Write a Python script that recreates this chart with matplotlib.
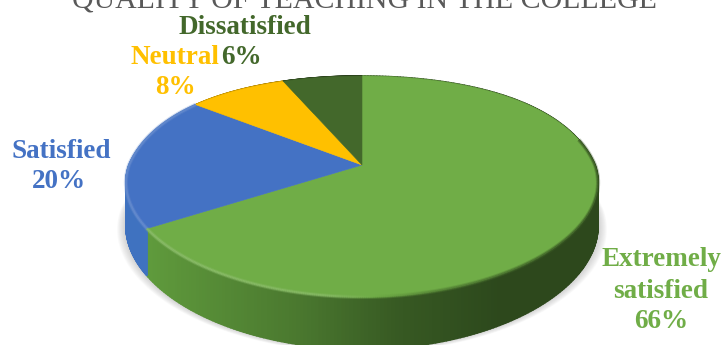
import numpy as np
import matplotlib
matplotlib.use("Agg")
import matplotlib.pyplot as plt
from matplotlib.collections import PolyCollection, LineCollection
from matplotlib.colors import to_rgb

title = "QUALITY OF TEACHING IN THE COLLEGE"
categories = ["Extremely satisfied", "Satisfied", "Neutral", "Dissatisfied"]
values = [66, 20, 8, 6]
top_colors = ["#70ad47", "#4472c4", "#ffc000", "#43682b"]
wall_colors = ["#5f9a3c", "#3f72c0", "#d9a300", "#3a5a25"]

# perspective of the pie disc, in pixels of the picture
cx, cy = 362, 165
kp = 0.1946
rx, ry = 233, 106.3
depth = 42


def project(theta):
    u, v = np.sin(theta), np.cos(theta)
    w = 1 + kp * v
    wx = 1 + np.where(v > 0, 0.19 - 0.1 * v, 0.16) * v
    return cx + rx * u / wx, cy - ry * v / w, depth / w


plt.rcParams["font.family"] = ["Liberation Serif", "DejaVu Serif"]
fig = plt.figure(figsize=(7.23, 3.45), dpi=100)
ax = fig.add_axes([0, 0, 1, 1])
ax.set_xlim(0, 723)
ax.set_ylim(345, 0)
ax.axis("off")

# edges of the slices, clockwise from the top
fracs = np.array(values) / sum(values) * 2 * np.pi
ends = np.cumsum(fracs)
starts = ends - fracs

# soft shadow under the pie
full = np.linspace(0, 2 * np.pi, 360)
fx, fy, fd = project(full)
for grow in np.linspace(9, 0, 10):
    ax.fill(cx + (fx - cx) * (1 + grow / 240), fy + fd + grow * 0.4,
            color="#808080", alpha=0.045, lw=0, zorder=1)

# side wall, drawn as thin strips so that it can darken to the right
for i in range(len(values)):
    th = np.linspace(starts[i], ends[i], 300)
    x, y, d = project(th)
    quads = []
    cols = []
    base = np.array(to_rgb(wall_colors[i]))
    shade = np.interp(x, [120, 150, 300, 400, 500, 600], [1.0, 1.0, 0.78, 0.58, 0.47, 0.47])
    for j in range(len(th) - 1):
        quads.append([(x[j], y[j]), (x[j + 1], y[j + 1]),
                      (x[j + 1], y[j + 1] + d[j + 1]), (x[j], y[j] + d[j])])
        cols.append(base * shade[j])
    ax.add_collection(PolyCollection(quads, facecolors=cols, edgecolors=cols, linewidths=1.2, zorder=2))

# top of the pie
for i in range(len(values)):
    th = np.linspace(starts[i], ends[i], 200)
    x, y, d = project(th)
    ax.fill(np.r_[cx, x], np.r_[cy, y], color=top_colors[i], lw=0.4, zorder=3)

# bevel along the front rim, light on the left and dark on the right
th = np.linspace(np.pi * 0.42, ends[1], 600)
x, y, d = project(th)
pts = np.column_stack([x, y])
segs = np.stack([pts[:-1], pts[1:]], axis=1)
mix = np.interp(x[:-1], [130, 330, 440, 600], [0.22, 0.18, -0.25, -0.55])
in_blue = th[:-1] > ends[0]
cols = []
for m, b in zip(mix, in_blue):
    c = np.array(to_rgb(top_colors[1] if b else top_colors[0]))
    cols.append(c + (1 - c) * m if m > 0 else c * (1 + m))
for lw, alpha in [(3.0, 0.3), (1.6, 0.7)]:
    ax.add_collection(LineCollection(segs, colors=cols, linewidths=lw, alpha=alpha, zorder=4))

# title is cut by the top of the picture
ax.text(364, 7, title, color="#595959", fontsize=21.5, ha="center", va="baseline", zorder=5)

label_kw = dict(fontsize=19.5, fontweight="bold", ha="center", va="center", linespacing=1.0, zorder=5)
ax.text(661, 260, "Extremely", color=top_colors[0], **label_kw)
ax.text(661, 291, "satisfied", color=top_colors[0], **label_kw)
ax.text(661, 321, f"{values[0]}%", color=top_colors[0], **label_kw)
ax.text(61, 151, categories[1], color=top_colors[1], **label_kw)
ax.text(59, 182, f"{values[1]}%", color=top_colors[1], **label_kw)
ax.text(175, 57, categories[2], color=top_colors[2], **label_kw)
ax.text(175, 87, f"{values[2]}%", color=top_colors[2], **label_kw)
ax.text(245, 28, categories[3], color=top_colors[3], **label_kw)
ax.text(241, 58, f"{values[3]}%", color=top_colors[3], **label_kw)

fig.savefig("out.png", dpi=100)
